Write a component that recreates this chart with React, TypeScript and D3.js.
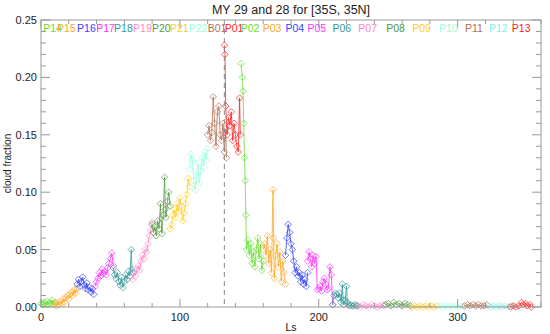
import * as d3 from 'd3';

// segment names, start Ls (used for the label row) and colours
const segNames = ['P14', 'P15', 'P16', 'P17', 'P18', 'P19', 'P20', 'P21', 'P22', 'B01', 'P01', 'P02', 'P03', 'P04', 'P05', 'P06', 'P07', 'P08', 'P09', 'P10', 'P11', 'P12', 'P13'];
const segStartLs = [1.6, 11.6, 26, 39.7, 52.6, 66.3, 79.9, 92.8, 106.4, 120, 132.3, 143.8, 159.6, 176, 191.9, 209.8, 228.5, 248.6, 267.3, 286.6, 305.3, 322.5, 339];
const segColors = ['#66dd33', '#ffa726', '#3344ff', '#ff33ff', '#339999', '#ff88cc', '#559944', '#ffcc22', '#99ffdd', '#b07050', '#ff2222', '#66dd33', '#ffa726', '#3344ff', '#ff33ff', '#339999', '#ff88cc', '#559944', '#ffcc22', '#99ffdd', '#b07050', '#88eee8', '#ff2222'];

// [Ls, cloud fraction] per segment
const p14 = [[0, 0.003], [1, 0.002], [2, 0.004], [3, 0.003], [4, 0.005], [5, 0.002], [6, 0.004], [7, 0.003], [8, 0.006], [9, 0.002], [10, 0.004]];
const p15 = [[10, 0.003], [11, 0.001], [12, 0.004], [13, 0.002], [14, 0.005], [15, 0.003], [16, 0.007], [17, 0.004], [18, 0.008], [19, 0.010], [20, 0.007], [21, 0.011], [22, 0.013], [23, 0.010], [24, 0.015], [25, 0.012], [26, 0.016]];
const p16 = [[26, 0.020], [27, 0.024], [28, 0.018], [29, 0.022], [30, 0.026], [31, 0.019], [32, 0.016], [33, 0.021], [34, 0.015], [35, 0.017], [36, 0.013], [37, 0.016], [38, 0.011]];
const p17 = [[39, 0.018], [40, 0.022], [41, 0.025], [42, 0.030], [43, 0.027], [44, 0.033], [45, 0.029], [46, 0.031], [47, 0.028], [48, 0.034], [49, 0.038], [50, 0.042], [51, 0.047], [52, 0.036]];
const p18 = [[52, 0.034], [53, 0.028], [54, 0.025], [55, 0.030], [56, 0.022], [57, 0.019], [58, 0.026], [59, 0.017], [60, 0.022], [61, 0.028], [62, 0.024], [63, 0.031], [64, 0.027], [65, 0.050], [65.5, 0.033], [66, 0.030]];
const p19 = [[66, 0.024], [67, 0.030], [68, 0.027], [69, 0.033], [70, 0.036], [71, 0.032], [72, 0.040], [73, 0.045], [74, 0.042], [75, 0.050], [76, 0.048], [77, 0.055], [78, 0.062], [79, 0.067], [80, 0.074]];
const p20 = [[80, 0.072], [81, 0.065], [82, 0.070], [83, 0.062], [84, 0.075], [85, 0.068], [86, 0.090], [87, 0.064], [88, 0.080], [89, 0.113], [89.5, 0.085], [90, 0.078], [91, 0.092], [92, 0.100], [93, 0.088]];
const p21 = [[93, 0.068], [94, 0.072], [95, 0.080], [96, 0.085], [97, 0.078], [98, 0.090], [99, 0.083], [100, 0.095], [101, 0.088], [102, 0.075], [103, 0.082], [104, 0.090], [105, 0.098], [106, 0.112], [107, 0.105]];
const p22 = [[107, 0.120], [108, 0.133], [109, 0.128], [110, 0.110], [111, 0.102], [112, 0.115], [113, 0.125], [114, 0.108], [115, 0.118], [116, 0.130], [117, 0.122], [118, 0.135], [119, 0.128], [120, 0.138]];
const b01 = [[120, 0.150], [121, 0.158], [122, 0.145], [123, 0.152], [124, 0.183], [125, 0.160], [126, 0.140], [127, 0.170], [128, 0.175], [129, 0.150], [130, 0.145], [131, 0.160], [132, 0.135], [133, 0.155], [133.5, 0.130]];
const p01 = [[132, 0.228], [132.5, 0.220], [133, 0.175], [134, 0.150], [135, 0.165], [136, 0.158], [137, 0.170], [138, 0.145], [139, 0.160], [140, 0.150], [141, 0.140], [142, 0.135], [143, 0.182], [143.5, 0.150]];
const p02 = [[144, 0.212], [145, 0.200], [145.5, 0.188], [146, 0.160], [146.5, 0.130], [147, 0.110], [147.5, 0.080], [148, 0.050], [149, 0.058], [150, 0.045], [151, 0.055], [152, 0.038], [153, 0.048], [154, 0.035], [155, 0.050], [156, 0.060], [157, 0.042], [158, 0.055], [159, 0.032], [160, 0.040]];
const p03 = [[160, 0.050], [161, 0.055], [162, 0.045], [163, 0.062], [164, 0.038], [165, 0.050], [166, 0.030], [167, 0.102], [167.5, 0.060], [168, 0.025], [169, 0.045], [170, 0.055], [171, 0.035], [172, 0.048], [173, 0.022], [174, 0.040], [175, 0.030], [176, 0.020]];
const p04 = [[176, 0.045], [177, 0.060], [178, 0.072], [179, 0.065], [180, 0.055], [181, 0.050], [182, 0.040], [183, 0.030], [184, 0.035], [185, 0.027], [186, 0.030], [187, 0.022], [188, 0.028], [189, 0.020], [190, 0.024], [191, 0.018], [192, 0.030]];
const p05 = [[192, 0.040], [193, 0.048], [194, 0.042], [195, 0.035], [196, 0.045], [197, 0.038], [198, 0.044], [199, 0.015], [200, 0.016], [201, 0.018], [202, 0.014], [203, 0.022], [204, 0.025], [205, 0.020], [206, 0.015], [207, 0.016], [208, 0.035], [209, 0.028], [210, 0.002]];
const p06 = [[210, 0.002], [211, 0.010], [212, 0.012], [213, 0.011], [214, 0.008], [215, 0.012], [216, 0.004], [217, 0.020], [217.5, 0.006], [218, 0.002], [219, 0.006], [220, 0.018], [220.5, 0.004], [221, 0.002], [222, 0.001], [223, 0.002], [224, 0.001], [225, 0.001], [226, 0.002], [227, 0.001], [228, 0.001]];
const p07 = [[228, 0.001], [230, 0.000], [232, 0.002], [234, 0.001], [236, 0.000], [238, 0.002], [240, 0.001], [242, 0.000], [244, 0.001], [246, 0.002], [247, 0.001]];
const p08 = [[248, 0.002], [250, 0.003], [252, 0.001], [254, 0.004], [256, 0.002], [258, 0.003], [260, 0.001], [262, 0.003], [264, 0.002], [266, 0.001]];
const p09 = [[267, 0.000], [269, 0.001], [271, 0.000], [273, 0.001], [275, 0.000], [277, 0.001], [279, 0.000], [281, 0.001], [283, 0.000], [285, 0.001]];
const p10 = [[287, 0.001], [289, 0.000], [291, 0.001], [293, 0.000], [295, 0.001], [297, 0.000], [299, 0.001], [301, 0.000], [303, 0.001]];
const p11 = [[305, 0.001], [307, 0.002], [309, 0.001], [311, 0.002], [313, 0.001], [315, 0.002], [317, 0.001], [319, 0.001], [321, 0.002]];
const p12 = [[322, 0.001], [324, 0.000], [326, 0.001], [328, 0.000], [330, 0.001], [332, 0.000], [334, 0.001], [336, 0.000], [338, 0.001]];
const p13 = [[338, 0.000], [340, 0.001], [342, 0.000], [344, 0.001], [346, 0.004], [347, 0.002], [349, 0.003], [350, 0.001], [352, 0.002], [353, 0.000]];

const segData = [p14, p15, p16, p17, p18, p19, p20, p21, p22, b01, p01, p02, p03, p04, p05, p06, p07, p08, p09, p10, p11, p12, p13];

const xTicks = [0, 100, 200, 300];
const yTicks = [0, 0.05, 0.1, 0.15, 0.2, 0.25];
const dashedLs = 132;

const width = 550;
const height = 334;
const margin = { top: 20, right: 9, bottom: 27, left: 41 };
const axisColor = '#999';
const textColor = '#222';
const font = 'Liberation Sans, Arial, Helvetica, sans-serif';
const diamond = 'M0,-3.3L3.3,0L0,3.3L-3.3,0Z';

export default function App() {
  const innerW = width - margin.left - margin.right;
  const innerH = height - margin.top - margin.bottom;
  const x = d3.scaleLinear().domain([0, 360]).range([0, innerW]);
  const y = d3.scaleLinear().domain([0, 0.25]).range([innerH, 0]);
  const line = d3.line<number[]>().x((d) => x(d[0])).y((d) => y(d[1]));

  const xMinor = d3.range(0, 361, 20);
  const yMinor = d3.range(0, 0.2501, 0.01);

  return (
    <svg width={width} height={height} style={{ position: 'absolute', left: 0, top: 0, background: '#fff' }} fontFamily={font}>
      <text x={margin.left + innerW / 2} y={14} textAnchor="middle" fontSize={12.5} fill={textColor}>
        MY 29 and 28 for [35S, 35N]
      </text>
      <g transform={`translate(${margin.left},${margin.top})`}>
        {/* data */}
        {segData.map((seg, i) => (
          <g key={segNames[i]}>
            <path d={line(seg) ?? ''} fill="none" stroke={segColors[i]} strokeWidth={0.8} />
            {seg.map((d, j) => (
              <path key={j} d={diamond} transform={`translate(${x(d[0])},${y(d[1])})`} fill="none" stroke={segColors[i]} strokeWidth={0.7} />
            ))}
          </g>
        ))}

        {/* dashed marker line */}
        <line x1={x(dashedLs)} x2={x(dashedLs)} y1={0} y2={innerH} stroke="#888" strokeWidth={1} strokeDasharray="5,4" />

        {/* frame */}
        <rect x={0} y={0} width={innerW} height={innerH} fill="none" stroke={axisColor} strokeWidth={1} />

        {/* x ticks bottom & top */}
        {xMinor.map((t) => {
          const major = xTicks.includes(t);
          const len = major ? 8 : 4;
          return (
            <g key={`xt${t}`}>
              <line x1={x(t)} x2={x(t)} y1={innerH} y2={innerH - len} stroke={axisColor} />
              <line x1={x(t)} x2={x(t)} y1={0} y2={len} stroke={axisColor} />
            </g>
          );
        })}
        {xTicks.map((t) => (
          <text key={`xl${t}`} x={x(t)} y={innerH + 14} textAnchor="middle" fontSize={11} fill={textColor}>
            {t}
          </text>
        ))}

        {/* y ticks left & right */}
        {yMinor.map((t, i) => {
          const major = i % 5 === 0;
          const len = major ? 9 : 5;
          return (
            <g key={`yt${i}`}>
              <line x1={0} x2={len} y1={y(t)} y2={y(t)} stroke={axisColor} />
              <line x1={innerW} x2={innerW - len} y1={y(t)} y2={y(t)} stroke={axisColor} />
            </g>
          );
        })}
        {yTicks.map((t) => (
          <text key={`yl${t}`} x={-4} y={y(t) + 4} textAnchor="end" fontSize={11} fill={textColor}>
            {d3.format('.2f')(t)}
          </text>
        ))}

        {/* segment labels */}
        {segNames.map((n, i) => (
          <text key={`lab${n}`} x={x(segStartLs[i])} y={12} fontSize={10.5} fill={segColors[i]}>
            {n}
          </text>
        ))}

        {/* axis titles */}
        <text x={innerW / 2} y={innerH + 24} textAnchor="middle" fontSize={10.5} fill={textColor}>
          Ls
        </text>
        <text transform={`translate(${-30},${innerH / 2}) rotate(-90)`} textAnchor="middle" fontSize={10} fill={textColor}>
          cloud fraction
        </text>
      </g>
    </svg>
  );
}
